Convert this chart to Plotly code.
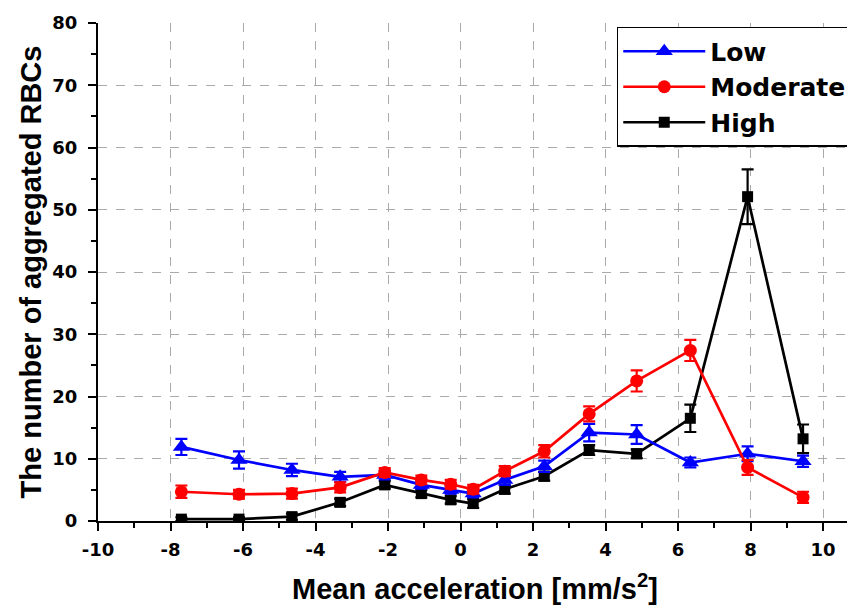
import plotly.graph_objects as go

accel = [-7.70, -6.11, -4.65, -3.32, -2.09, -1.08, -0.27, 0.35, 1.22, 2.31, 3.55, 4.86, 6.34, 7.92, 9.45]

low = [11.9, 9.8, 8.2, 7.1, 7.4, 5.8, 5.0, 4.4, 6.6, 8.8, 14.2, 13.9, 9.4, 10.8, 9.6]
low_err = [1.3, 1.4, 1.0, 0.8, 0.7, 0.6, 0.6, 0.6, 0.8, 0.9, 1.4, 1.5, 0.8, 1.2, 0.9]

moderate = [4.7, 4.3, 4.4, 5.4, 7.8, 6.6, 5.9, 5.1, 8.0, 11.2, 17.2, 22.5, 27.4, 8.6, 3.8]
moderate_err = [1.0, 0.7, 0.8, 0.8, 0.7, 0.7, 0.7, 0.7, 0.8, 1.0, 1.2, 1.7, 1.7, 1.2, 0.9]

high = [0.3, 0.3, 0.7, 3.0, 5.8, 4.4, 3.4, 2.8, 5.1, 7.2, 11.4, 10.8, 16.5, 52.1, 13.2]
high_err = [0.3, 0.3, 0.5, 0.6, 0.6, 0.6, 0.6, 0.7, 0.7, 0.7, 0.8, 0.7, 2.2, 4.4, 2.3]

x_ticks = [-10, -8, -6, -4, -2, 0, 2, 4, 6, 8, 10]
y_ticks = [0, 10, 20, 30, 40, 50, 60, 70, 80]

FONT = "Arial, Liberation Sans, sans-serif"
WIDE = "DejaVu Sans, Arial, sans-serif"

fig = go.Figure()

def add(name, y, err, color, symbol, size, rank):
    fig.add_trace(go.Scatter(
        x=accel, y=y, name=name, mode="lines+markers",
        line=dict(color=color, width=2.7),
        marker=dict(color=color, symbol=symbol, size=size, line=dict(width=0)),
        error_y=dict(type="data", array=err, visible=True, color=color, thickness=2.2, width=6),
        legendrank=rank,
    ))

add("High", high, high_err, "#000000", "square", 11, 3)
add("Low", low, low_err, "#0000ff", "triangle-up", 15, 1)
add("Moderate", moderate, moderate_err, "#ff0000", "circle", 13, 2)

fig.update_layout(
    width=847, height=601,
    margin=dict(l=90, r=3, t=15, b=88, autoexpand=False),
    paper_bgcolor="white", plot_bgcolor="white",
    font=dict(family=FONT, color="black"),
    showlegend=True,
    legend=dict(
        x=0.688, y=0.992, xanchor="left", yanchor="top",
        bgcolor="white", bordercolor="black", borderwidth=1.5,
        font=dict(size=25, family=WIDE, weight="bold"),
        itemwidth=82, tracegroupgap=0,
    ),
    xaxis=dict(
        range=[-10, 10.8], tickvals=x_ticks, ticktext=[str(v) for v in x_ticks],
        automargin=False,
        showline=True, linecolor="black", linewidth=2,
        ticks="outside", ticklen=8, tickwidth=2, tickcolor="black",
        minor=dict(dtick=1, ticks="outside", ticklen=5, tickwidth=2, tickcolor="black", showgrid=False),
        showgrid=True, gridcolor="#aaaaaa", griddash="dash", gridwidth=1,
        zeroline=False, ticklabelstandoff=3,
        tickfont=dict(size=18, family=WIDE, weight="bold"),
        title=dict(text="Mean acceleration [mm/s<sup>2</sup>]", font=dict(size=29, family=FONT, weight="bold"), standoff=20),
    ),
    yaxis=dict(
        range=[0, 80], tickvals=y_ticks, ticktext=[str(v) for v in y_ticks],
        automargin=False,
        showline=True, linecolor="black", linewidth=2,
        ticks="outside", ticklen=8, tickwidth=2, tickcolor="black",
        minor=dict(dtick=5, ticks="outside", ticklen=5, tickwidth=2, tickcolor="black", showgrid=False),
        showgrid=True, gridcolor="#aaaaaa", griddash="dash", gridwidth=1,
        zeroline=False, ticklabelstandoff=7,
        tickfont=dict(size=18, family=WIDE, weight="bold"),
        title=dict(text="The number of aggregated RBCs", font=dict(size=29, family=FONT, weight="bold"), standoff=2),
    ),
)

fig.write_html("out.html")
